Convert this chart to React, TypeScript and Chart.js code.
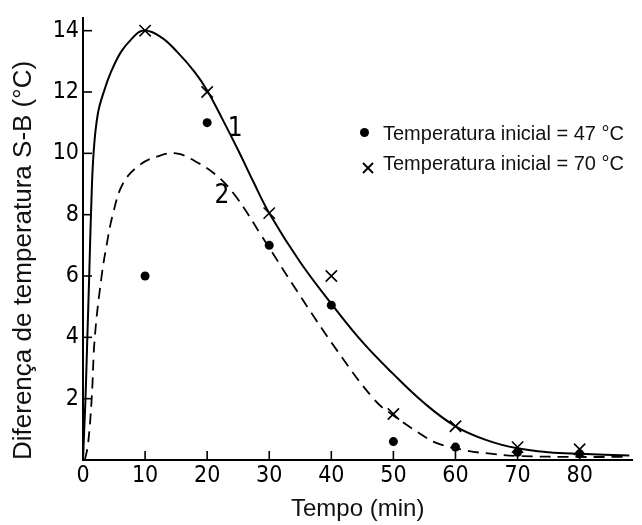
import React, { useEffect, useRef } from "react";
import { Chart, registerables } from "chart.js";

Chart.register(...registerables);

// Curve 1 (solid)
const curve1X = [0, 0.2, 0.4, 0.7, 1.0, 1.3, 1.7, 2.4, 3.5, 4.5, 6.1, 7.7, 9.6, 12.5, 15.2, 18, 20, 22.5, 25, 27.5, 30, 35, 40, 45, 50, 55, 60, 65, 70, 75, 80, 88];
const curve1Y = [0, 1.0, 2.0, 4.0, 6.0, 8.1, 10.0, 11.3, 12.1, 12.65, 13.3, 13.7, 14.0, 13.8, 13.3, 12.65, 12.05, 11.1, 10.1, 9.05, 8.05, 6.45, 5.1, 3.85, 2.8, 1.85, 1.1, 0.65, 0.38, 0.25, 0.2, 0.15];

// Curve 2 (dashed)
const curve2X = [0.3, 0.8, 1.4, 1.9, 3.0, 3.8, 4.8, 6.4, 9, 12, 15, 18, 21.4, 24.6, 28.8, 34.5, 41, 47, 50, 54, 57, 62, 66, 70, 80, 88];
const curve2Y = [0, 0.5, 2.0, 4.0, 6.0, 7.0, 8.0, 9.0, 9.6, 9.9, 10.0, 9.75, 9.3, 8.6, 7.3, 5.5, 3.55, 1.95, 1.45, 0.9, 0.55, 0.3, 0.2, 0.13, 0.1, 0.1];

// Measured points
const sampleTimes = [10, 20, 30, 40, 50, 60, 70, 80];
const temp47 = [6.0, 11.0, 7.0, 5.05, 0.6, 0.42, 0.25, 0.2];
const temp70 = [14.0, 12.0, 8.05, 6.0, 1.5, 1.1, 0.42, 0.35];

const xTickValues = [0, 10, 20, 30, 40, 50, 60, 70, 80];
const yTickValues = [2, 4, 6, 8, 10, 12, 14];

const legendLabels = ["Temperatura inicial = 47 °C", "Temperatura inicial = 70 °C"];
const xTitle = "Tempo (min)";
const yTitle = "Diferença de temperatura S-B (°C)";
const curveNames = ["1", "2"];
const curveNameAt = [
  [24.5, 10.8],
  [22.4, 8.6],
];

const handFont = "'Liberation Sans Narrow', 'DejaVu Sans Condensed', sans-serif";
const textFont = "'Liberation Sans', Arial, sans-serif";

const innerTicks = {
  id: "innerTicks",
  afterDraw(chart: any) {
    const { ctx, scales } = chart;
    const xs = scales.x;
    const ys = scales.y;
    const y0 = ys.getPixelForValue(0);
    const x0 = xs.getPixelForValue(0);
    ctx.save();
    ctx.strokeStyle = "#000";
    ctx.lineWidth = 1.6;
    xs.ticks.forEach((t: any) => {
      if (t.value === 0) return;
      const px = xs.getPixelForValue(t.value);
      ctx.beginPath();
      ctx.moveTo(px, y0);
      ctx.lineTo(px, y0 - 9);
      ctx.stroke();
    });
    ys.ticks.forEach((t: any) => {
      const py = ys.getPixelForValue(t.value);
      ctx.beginPath();
      ctx.moveTo(x0, py);
      ctx.lineTo(x0 + 9, py);
      ctx.stroke();
    });
    ctx.fillStyle = "#000";
    ctx.font = `26px ${handFont}`;
    ctx.textAlign = "center";
    ctx.textBaseline = "middle";
    curveNames.forEach((n, i) => {
      ctx.fillText(n, xs.getPixelForValue(curveNameAt[i][0]), ys.getPixelForValue(curveNameAt[i][1]));
    });
    ctx.restore();
  },
};

export default function App() {
  const ref = useRef<HTMLCanvasElement | null>(null);

  useEffect(() => {
    if (!ref.current) return;
    const chart = new Chart(ref.current, {
      type: "scatter",
      data: {
        datasets: [
          {
            type: "line",
            label: "Curva 1",
            data: curve1X.map((x, i) => ({ x, y: curve1Y[i] })),
            borderColor: "#000",
            borderWidth: 2,
            pointRadius: 0,
            tension: 0.4,
            fill: false,
          } as any,
          {
            type: "line",
            label: "Curva 2",
            data: curve2X.map((x, i) => ({ x, y: curve2Y[i] })),
            borderColor: "#000",
            borderWidth: 1.8,
            borderDash: [11, 7],
            pointRadius: 0,
            tension: 0.4,
            fill: false,
          } as any,
          {
            type: "scatter",
            label: legendLabels[0],
            data: sampleTimes.map((x, i) => ({ x, y: temp47[i] })),
            pointStyle: "circle",
            pointRadius: 4.5,
            backgroundColor: "#000",
            borderColor: "#000",
            borderWidth: 0,
          },
          {
            type: "scatter",
            label: legendLabels[1],
            data: sampleTimes.map((x, i) => ({ x, y: temp70[i] })),
            pointStyle: "crossRot",
            pointRadius: 8,
            borderColor: "#000",
            borderWidth: 1.6,
          },
        ],
      },
      options: {
        responsive: false,
        animation: false,
        layout: { padding: { top: 13, right: 6, left: 0, bottom: 0 } },
        plugins: { legend: { display: false }, tooltip: { enabled: false } },
        scales: {
          x: {
            type: "linear",
            min: 0,
            max: 88.5,
            afterBuildTicks: (s: any) => {
              s.ticks = xTickValues.map((v) => ({ value: v }));
            },
            afterFit: (s: any) => {
              s.height = 65;
            },
            grid: { display: true, drawOnChartArea: false, drawTicks: false },
            border: { display: true, color: "#000", width: 2 },
            ticks: {
              color: "#000",
              padding: 2,
              maxRotation: 0,
              autoSkip: false,
              font: { family: handFont, size: 23 },
            },
            title: {
              display: true,
              text: xTitle,
              color: "#111",
              font: { family: textFont, size: 24 },
              padding: { top: 0, bottom: 1 },
            },
          },
          y: {
            type: "linear",
            min: 0,
            max: 14.42,
            afterBuildTicks: (s: any) => {
              s.ticks = yTickValues.map((v) => ({ value: v }));
            },
            afterFit: (s: any) => {
              s.width = 83;
            },
            grid: { display: true, drawOnChartArea: false, drawTicks: false },
            border: { display: true, color: "#000", width: 2 },
            ticks: {
              color: "#000",
              padding: 4,
              autoSkip: false,
              font: { family: handFont, size: 23 },
            },
            title: {
              display: true,
              text: yTitle,
              align: "start",
              color: "#111",
              font: { family: textFont, size: 26 },
              padding: { top: 8, bottom: 0 },
            },
          },
        },
      },
      plugins: [innerTicks],
    } as any);
    return () => chart.destroy();
  }, []);

  const legendText: React.CSSProperties = {
    position: "absolute",
    left: 383,
    font: `20px ${textFont}`,
    lineHeight: "20px",
    color: "#111",
    whiteSpace: "nowrap",
  };

  return (
    <div style={{ position: "absolute", left: 0, top: 0, width: 642, height: 525, background: "#fff" }}>
      <canvas ref={ref} width={642} height={525} style={{ display: "block" }} />
      <div
        style={{
          position: "absolute",
          left: 359.5,
          top: 128,
          width: 9,
          height: 9,
          borderRadius: "50%",
          background: "#000",
        }}
      />
      <div style={{ ...legendText, top: 123 }}>{legendLabels[0]}</div>
      <svg style={{ position: "absolute", left: 362, top: 162 }} width={12} height={12}>
        <line x1={1} y1={1} x2={11} y2={11} stroke="#000" strokeWidth={1.8} />
        <line x1={11} y1={1} x2={1} y2={11} stroke="#000" strokeWidth={1.8} />
      </svg>
      <div style={{ ...legendText, top: 153 }}>{legendLabels[1]}</div>
    </div>
  );
}
